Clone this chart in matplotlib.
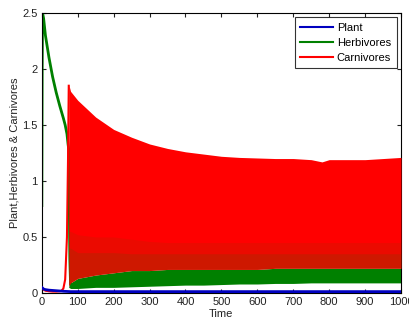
import numpy as np
import matplotlib
matplotlib.use('Agg')
import matplotlib.pyplot as plt

plt.rcParams['font.family'] = ['Liberation Sans', 'DejaVu Sans']

# early transients
plant_t = [0, 5, 10, 20, 40, 60, 80, 100, 1000]
plant_v = [0.05, 0.035, 0.03, 0.025, 0.02, 0.015, 0.012, 0.012, 0.012]

herb_t = [0, 1, 2, 5, 10, 20, 30, 40, 50, 60, 65, 70, 73, 75, 78, 80]
herb_v = [0.78, 2.0, 2.5, 2.45, 2.3, 2.1, 1.93, 1.79, 1.67, 1.56, 1.5, 1.42, 1.33, 1.28, 0.3, 0.08]

carn_t = [0, 5, 10, 20, 30, 40, 50, 55, 60, 65, 70, 73, 75]
carn_v = [0.05, 0.03, 0.02, 0.015, 0.012, 0.012, 0.015, 0.02, 0.04, 0.12, 0.5, 1.2, 1.85]

# oscillation envelopes after t=75
env_t = [75, 80, 100, 150, 200, 250, 300, 350, 400, 450, 500, 550, 600,
         650, 700, 750, 780, 800, 850, 900, 950, 1000]
carn_hi = [1.86, 1.80, 1.72, 1.57, 1.46, 1.39, 1.33, 1.29, 1.26, 1.24, 1.22, 1.21, 1.205,
           1.20, 1.20, 1.19, 1.17, 1.19, 1.19, 1.19, 1.20, 1.21]
carn_lo = [0.06, 0.09, 0.13, 0.16, 0.18, 0.2, 0.2, 0.21, 0.21, 0.21, 0.21, 0.21, 0.21,
           0.22, 0.22, 0.22, 0.22, 0.22, 0.22, 0.22, 0.22, 0.22]
herb_lo = [0.05, 0.04, 0.04, 0.05, 0.05, 0.055, 0.06, 0.065, 0.07, 0.07, 0.075, 0.08, 0.08,
           0.085, 0.085, 0.09, 0.09, 0.09, 0.09, 0.09, 0.09, 0.09]
# herbivore peaks: typical and highest
herb_mid = [0.4, 0.4, 0.36, 0.36, 0.36, 0.35, 0.35, 0.35, 0.35, 0.35, 0.35, 0.35, 0.35,
            0.35, 0.35, 0.35, 0.35, 0.35, 0.35, 0.35, 0.35, 0.35]
herb_hi = [0.55, 0.55, 0.52, 0.5, 0.5, 0.48, 0.46, 0.45, 0.45, 0.45, 0.45, 0.45, 0.45,
           0.45, 0.45, 0.45, 0.45, 0.45, 0.45, 0.45, 0.45, 0.45]

c_plant = (0.0, 0.0, 0.75)
c_herb = (0.0, 0.5, 0.0)
c_carn = (1.0, 0.0, 0.0)

fig = plt.figure(figsize=(4.10, 3.23), dpi=100)
ax = fig.add_axes([0.102, 0.093, 0.876, 0.867])

ax.plot(plant_t, plant_v, color=c_plant, lw=2, label='Plant', zorder=4)
ax.plot(herb_t, herb_v, color=c_herb, lw=2, label='Herbivores', zorder=2)
ax.fill_between(env_t, herb_lo, carn_lo, color=c_herb, lw=0, zorder=2)
ax.plot(carn_t, carn_v, color=c_carn, lw=1.5, label='Carnivores', zorder=3)
ax.fill_between(env_t, carn_lo, carn_hi, color=c_carn, lw=0, zorder=3)
# herbivore peaks showing through the red band
ax.fill_between(env_t, carn_lo, herb_hi, color=c_herb, alpha=0.08, lw=0, zorder=3.5)
ax.fill_between(env_t, carn_lo, herb_mid, color=c_herb, alpha=0.12, lw=0, zorder=3.5)

ax.set_xlim(0, 1000)
ax.set_ylim(0, 2.5)
ax.set_xticks(np.arange(0, 1001, 100))
ax.set_yticks([0, 0.5, 1, 1.5, 2, 2.5])
ax.set_yticklabels(['0', '0.5', '1', '1.5', '2', '2.5'])
ax.tick_params(direction='in', top=True, right=True, length=3, labelsize=8,
               colors='#222222', pad=3)
for s in ax.spines.values():
    s.set_linewidth(0.8)
ax.set_xlabel('Time', fontsize=8, color='#222222', labelpad=1)
ax.set_ylabel('Plant,Herbivores & Carnivores', fontsize=8, color='#222222', labelpad=2)

leg = ax.legend(loc='upper right', fontsize=8, frameon=True, fancybox=False,
                edgecolor='black', handlelength=3.0, borderpad=0.5,
                labelspacing=0.45, handletextpad=0.3, borderaxespad=0.4)
leg.get_frame().set_linewidth(0.8)
for line in leg.get_lines():
    line.set_linewidth(1.5)

fig.savefig('out.png', dpi=100)
